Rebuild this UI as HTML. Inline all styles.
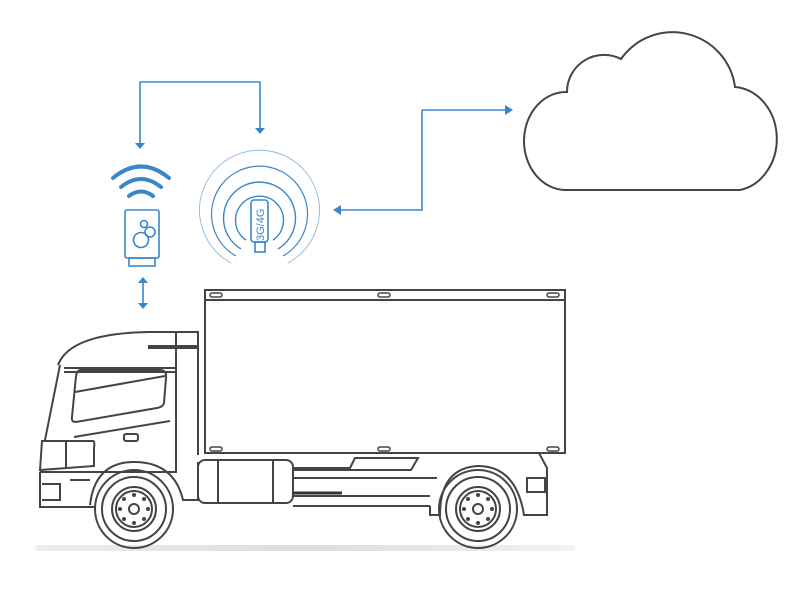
<!DOCTYPE html>
<html><head><style>body{margin:0;background:#fff}svg{display:block}</style></head><body>
<svg width="800" height="600" viewBox="0 0 800 600" xmlns="http://www.w3.org/2000/svg">
<defs>
<linearGradient id="sh" x1="0" x2="1"><stop offset="0" stop-color="#eee"/><stop offset=".5" stop-color="#ddd"/><stop offset="1" stop-color="#f2f2f2"/></linearGradient>
</defs>
<g stroke="#3a86c8" stroke-width="1.6" fill="none">
<path d="M140 144V82H260V129"/>
<path d="M422 110H506M422 110V210H340"/>
<path d="M143 283V303"/>
</g>
<g fill="#3a86c8">
<path d="M135 143h10l-5 6z"/><path d="M255 128h10l-5 6z"/>
<path d="M505 105v10l8-5z"/><path d="M341 205v10l-8-5z"/>
<path d="M138 283h10l-5-6z"/><path d="M138 303h10l-5 6z"/>
</g>
<g stroke="#3a86c8" stroke-width="4" fill="none" stroke-linecap="round">
<path d="M113 178Q141 155 169 178"/><path d="M121 187Q141 171 161 187"/><path d="M129 196Q141 187 153 196"/>
</g>
<g stroke="#3a86c8" stroke-width="1.6" fill="none">
<rect x="125" y="210" width="34" height="48" rx="2"/>
<rect x="129" y="258" width="26" height="8"/>
<circle cx="141" cy="240" r="7.5"/><circle cx="150" cy="232" r="5"/><circle cx="144" cy="224" r="3.5"/>
<rect x="251" y="200" width="17" height="42" rx="3"/><rect x="255" y="242" width="10" height="10"/>
</g>
<text x="0" y="0" transform="translate(264,241) rotate(-90)" font-family="Liberation Sans,sans-serif" font-size="11" fill="#3a86c8">3G/4G</text>
<g stroke="#3a86c8" fill="none">
<path d="M246 240A24 24 0 1 1 273 240" stroke-width="1.4"/>
<path d="M241 249A36 36 0 1 1 278 249" stroke-width="1.4"/>
<path d="M236 256A48 48 0 1 1 283 256" stroke-width="1.2"/>
<path d="M231 263A60 60 0 1 1 288 263" stroke-width="0.8" stroke="#7fb3de"/>
</g>
<path d="M565 190A42 49 0 0 1 567 92A37 37 0 0 1 621 59A63 63 0 0 1 735 87A45 52 0 0 1 740 190Z" stroke="#444" stroke-width="2" fill="none"/>
<rect x="35" y="545" width="540" height="6" rx="3" fill="url(#sh)"/>
<g stroke="#444" stroke-width="2" fill="none">
<rect x="205" y="290" width="360" height="163"/>
<line x1="205" y1="300" x2="565" y2="300"/>
<rect x="210" y="293" width="12" height="4" rx="2" stroke-width="1.5"/>
<rect x="378" y="293" width="12" height="4" rx="2" stroke-width="1.5"/>
<rect x="547" y="293" width="12" height="4" rx="2" stroke-width="1.5"/>
<rect x="210" y="447" width="12" height="4" rx="2" stroke-width="1.5"/>
<rect x="378" y="447" width="12" height="4" rx="2" stroke-width="1.5"/>
<rect x="547" y="447" width="12" height="4" rx="2" stroke-width="1.5"/>
<path d="M58 365Q70 333 150 332H198V455"/>
<line x1="176" y1="332" x2="176" y2="465"/>
<path d="M60 365L45 440"/>
<path d="M64 368H176M64 372H176"/>
<path d="M81 370H160Q167 370 166 378L164 403Q163 407 157 408L76 422Q71 422 72 417L76 376Q77 370 81 370Z"/>
<line x1="75" y1="392" x2="165" y2="376"/>
<path d="M74 437L170 421"/>
<rect x="124" y="434" width="14" height="7" rx="2"/>
<path d="M42 441H93Q95 441 94 448V466L40 470Z"/>
<path d="M66 442V468"/>
<path d="M40 472H176V455M40 472V507H95"/>
<path d="M42 484H60V500H42"/>
<path d="M70 480H90"/>
<path d="M90 505Q95 462 134 462Q174 462 183 500H198V462"/>
<circle cx="134" cy="509" r="39"/><circle cx="134" cy="509" r="32"/>
<circle cx="134" cy="509" r="22"/><circle cx="134" cy="509" r="18"/><circle cx="134" cy="509" r="5"/>
<rect x="198" y="460" width="95" height="43" rx="7"/>
<line x1="218" y1="460" x2="218" y2="503"/><line x1="273" y1="460" x2="273" y2="503"/>
<path d="M293 468H350L355 458H418L411 470H293"/>
<path d="M293 478H437M293 496H430M293 506H430"/>
<path d="M430 506V515H440Q440 468 478 466Q516 466 524 515H547V468L539 453"/>
<circle cx="478" cy="509" r="39"/><circle cx="478" cy="509" r="32"/>
<circle cx="478" cy="509" r="22"/><circle cx="478" cy="509" r="18"/><circle cx="478" cy="509" r="5"/>
<rect x="527" y="478" width="18" height="14"/>
</g>
<path d="M148 347H198" stroke="#444" stroke-width="4"/>
<path d="M293 493H342" stroke="#333" stroke-width="3"/>
<g fill="#444">
<circle cx="134" cy="495" r="2"/><circle cx="134" cy="523" r="2"/><circle cx="120" cy="509" r="2"/><circle cx="148" cy="509" r="2"/>
<circle cx="124" cy="499" r="2"/><circle cx="144" cy="499" r="2"/><circle cx="124" cy="519" r="2"/><circle cx="144" cy="519" r="2"/>
<circle cx="478" cy="495" r="2"/><circle cx="478" cy="523" r="2"/><circle cx="464" cy="509" r="2"/><circle cx="492" cy="509" r="2"/>
<circle cx="468" cy="499" r="2"/><circle cx="488" cy="499" r="2"/><circle cx="468" cy="519" r="2"/><circle cx="488" cy="519" r="2"/>
</g>
</svg>
</body></html>
